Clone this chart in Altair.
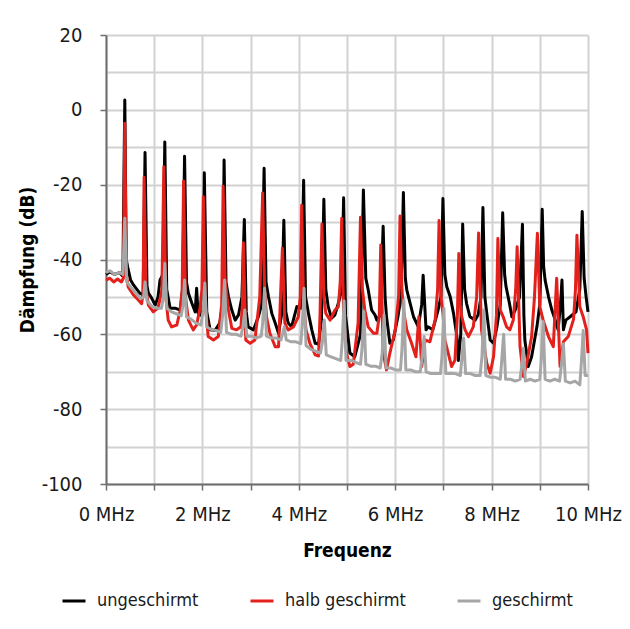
import altair as alt
import pandas as pd

SERIES = ["ungeschirmt", "halb geschirmt", "geschirmt"]
COLORS = ["#000000", "#e3201b", "#a6a6a6"]

X_TICKS = [0, 1, 2, 3, 4, 5, 6, 7, 8, 9, 10]
Y_TICKS = [-100, -90, -80, -70, -60, -50, -40, -30, -20, -10, 0, 10, 20]

black_f = [0.00, 0.08, 0.18, 0.28, 0.35, 0.39, 0.42, 0.45, 0.51, 0.57, 0.70, 0.77,
           0.81, 0.85, 0.88, 0.95, 1.02, 1.08, 1.12, 1.18, 1.22, 1.26, 1.33, 1.43,
           1.54, 1.59, 1.63, 1.67, 1.71, 1.78, 1.85, 1.88, 1.91, 1.98, 2.01, 2.04,
           2.09, 2.16, 2.26, 2.36, 2.42, 2.45, 2.49, 2.54, 2.61, 2.68, 2.75, 2.82,
           2.87, 2.91, 2.95, 3.06, 3.16, 3.23, 3.28, 3.32, 3.37, 3.44, 3.51, 3.58,
           3.64, 3.69, 3.73, 3.78, 3.85, 3.96, 4.05, 4.10, 4.14, 4.20, 4.27, 4.34,
           4.41, 4.47, 4.52, 4.56, 4.61, 4.68, 4.75, 4.82, 4.89, 4.93, 4.97, 5.06,
           5.16, 5.28, 5.34, 5.39, 5.44, 5.51, 5.58, 5.62, 5.69, 5.75, 5.79, 5.82,
           5.89, 5.96, 6.06, 6.12, 6.17, 6.21, 6.24, 6.31, 6.38, 6.48, 6.55, 6.58,
           6.64, 6.68, 6.78, 6.88, 6.95, 6.99, 7.03, 7.07, 7.14, 7.21, 7.28, 7.31,
           7.36, 7.40, 7.44, 7.48, 7.55, 7.66, 7.72, 7.78, 7.82, 7.86, 7.90, 7.97,
           8.04, 8.11, 8.18, 8.23, 8.27, 8.30, 8.37, 8.42, 8.49, 8.58, 8.64, 8.67,
           8.69, 8.76, 8.83, 8.94, 9.00, 9.05, 9.08, 9.11, 9.18, 9.25, 9.32, 9.38,
           9.43, 9.46, 9.49, 9.54, 9.63, 9.75, 9.83, 9.88, 9.92, 9.96, 10.00]
black_db = [-44.0, -43.3, -44.0, -43.5, -44.5, 2.6, -40.0, -42.0, -45.5, -46.8, -49.0, -49.5,
            -11.4, -47.0, -49.0, -50.4, -52.2, -50.0, -45.5, -44.0, -8.6, -48.0, -53.0, -53.0,
            -53.5, -48.0, -12.4, -46.0, -49.0, -51.6, -54.0, -47.7, -54.3, -55.0, -50.0, -16.8,
            -54.0, -58.8, -59.0, -57.0, -52.0, -13.4, -46.0, -49.9, -53.5, -56.2, -54.8, -50.0,
            -29.3, -54.0, -58.0, -58.8, -55.3, -52.0, -15.6, -46.0, -49.9, -54.4, -57.0, -59.7,
            -55.0, -29.5, -54.0, -57.0, -58.0, -52.6, -53.0, -18.8, -50.0, -54.4, -58.8, -62.4,
            -62.6, -56.0, -23.9, -48.0, -52.6, -55.7, -54.8, -51.7, -48.0, -23.5, -55.0, -65.0,
            -66.0, -60.0, -21.4, -45.0, -48.1, -53.5, -54.8, -56.2, -54.8, -31.1, -50.0, -55.3,
            -62.4, -61.5, -55.0, -50.0, -22.1, -45.0, -48.1, -51.7, -55.3, -58.0, -52.0, -44.2,
            -58.8, -58.0, -58.8, -54.0, -50.0, -23.7, -44.0, -47.3, -49.9, -54.4, -60.6, -67.0,
            -60.0, -30.5, -48.0, -51.7, -55.3, -56.2, -54.8, -50.0, -26.1, -50.0, -54.4, -61.5,
            -62.4, -58.0, -52.0, -27.5, -44.0, -47.3, -51.7, -55.3, -53.5, -50.0, -30.6, -55.0,
            -61.5, -68.6, -66.0, -58.0, -52.0, -26.6, -42.0, -45.5, -49.9, -53.5, -56.2, -58.8,
            -52.0, -45.5, -58.8, -56.2, -55.3, -54.0, -48.0, -27.2, -45.0, -49.9, -54.0]

red_f = [0.00, 0.08, 0.16, 0.24, 0.32, 0.36, 0.39, 0.42, 0.46, 0.57, 0.67, 0.74,
         0.77, 0.79, 0.83, 0.88, 0.98, 1.08, 1.16, 1.20, 1.24, 1.29, 1.36, 1.47,
         1.54, 1.58, 1.61, 1.65, 1.71, 1.81, 1.88, 1.95, 1.99, 2.02, 2.06, 2.12,
         2.23, 2.33, 2.40, 2.43, 2.47, 2.54, 2.61, 2.71, 2.80, 2.83, 2.85, 2.90,
         2.99, 3.09, 3.19, 3.25, 3.29, 3.33, 3.40, 3.51, 3.58, 3.62, 3.66, 3.71,
         3.78, 3.89, 3.99, 4.03, 4.06, 4.10, 4.15, 4.23, 4.34, 4.41, 4.44, 4.48,
         4.52, 4.56, 4.65, 4.75, 4.82, 4.86, 4.89, 4.93, 4.99, 5.06, 5.13, 5.23,
         5.28, 5.32, 5.37, 5.44, 5.55, 5.62, 5.67, 5.70, 5.75, 5.82, 5.89, 6.00,
         6.07, 6.10, 6.14, 6.17, 6.24, 6.34, 6.43, 6.49, 6.55, 6.62, 6.72, 6.83,
         6.88, 6.91, 6.95, 6.99, 7.03, 7.10, 7.17, 7.24, 7.29, 7.32, 7.35, 7.38,
         7.45, 7.52, 7.62, 7.69, 7.73, 7.79, 7.90, 7.97, 8.04, 8.10, 8.13, 8.18,
         8.24, 8.31, 8.38, 8.45, 8.50, 8.53, 8.59, 8.66, 8.73, 8.83, 8.89, 8.95,
         9.00, 9.07, 9.18, 9.28, 9.35, 9.42, 9.49, 9.59, 9.70, 9.74, 9.77, 9.83,
         9.90, 9.97, 10.00]
red_db = [-45.5, -45.0, -46.0, -45.2, -46.0, -45.0, -3.6, -44.0, -47.3, -49.5, -50.8, -51.8,
          -49.0, -18.0, -48.0, -52.2, -54.0, -53.0, -48.0, -15.2, -50.0, -56.2, -58.0, -57.5,
          -53.5, -48.0, -19.0, -50.0, -56.2, -58.8, -57.5, -53.0, -48.0, -23.2, -52.0, -60.6,
          -61.5, -60.6, -52.0, -20.4, -45.0, -53.5, -58.4, -58.8, -58.0, -52.0, -35.5, -61.5,
          -62.4, -61.5, -50.0, -22.2, -48.0, -55.3, -59.7, -63.3, -63.3, -50.0, -37.0, -57.0,
          -58.8, -58.0, -55.3, -50.0, -25.5, -52.0, -58.8, -62.4, -65.5, -65.8, -55.0, -30.5,
          -50.0, -54.4, -56.2, -53.5, -52.6, -46.0, -29.0, -55.0, -65.0, -68.6, -68.0, -57.0,
          -28.7, -48.0, -53.5, -58.0, -59.7, -59.7, -55.0, -36.1, -65.0, -69.5, -65.0, -58.8,
          -50.0, -28.4, -48.0, -53.5, -58.8, -62.4, -66.0, -55.3, -68.6, -61.5, -62.0, -56.0,
          -48.0, -29.6, -50.0, -54.4, -61.5, -65.0, -68.6, -66.9, -55.0, -38.4, -52.0, -55.3,
          -58.8, -60.6, -58.0, -50.0, -32.9, -58.8, -67.7, -70.4, -66.0, -55.0, -34.4, -53.5,
          -55.3, -58.0, -58.8, -56.2, -48.0, -36.6, -63.3, -71.3, -67.7, -60.6, -50.0, -33.0,
          -52.6, -56.2, -60.6, -63.3, -45.0, -68.6, -62.0, -60.6, -56.0, -48.0, -33.5, -52.6,
          -55.3, -58.8, -65.0]

gray_f = [0.00, 0.08, 0.18, 0.28, 0.35, 0.39, 0.43, 0.52, 0.62, 0.72, 0.78, 0.81,
          0.85, 0.95, 1.05, 1.15, 1.19, 1.22, 1.26, 1.36, 1.46, 1.56, 1.60, 1.63,
          1.67, 1.77, 1.87, 1.97, 2.01, 2.05, 2.09, 2.19, 2.29, 2.38, 2.42, 2.46,
          2.50, 2.60, 2.70, 2.80, 2.84, 2.88, 2.92, 3.02, 3.12, 3.22, 3.25, 3.29,
          3.33, 3.43, 3.53, 3.63, 3.66, 3.70, 3.74, 3.84, 3.94, 4.04, 4.07, 4.11,
          4.15, 4.25, 4.35, 4.45, 4.49, 4.53, 4.57, 4.67, 4.77, 4.87, 4.90, 4.94,
          4.98, 5.08, 5.18, 5.28, 5.31, 5.35, 5.39, 5.49, 5.59, 5.69, 5.73, 5.77,
          5.81, 5.91, 6.01, 6.11, 6.14, 6.18, 6.22, 6.32, 6.42, 6.52, 6.56, 6.60,
          6.64, 6.74, 6.84, 6.94, 6.97, 7.01, 7.05, 7.15, 7.25, 7.35, 7.38, 7.42,
          7.46, 7.56, 7.66, 7.76, 7.80, 7.84, 7.88, 7.98, 8.08, 8.18, 8.21, 8.25,
          8.29, 8.39, 8.49, 8.59, 8.62, 8.66, 8.70, 8.80, 8.90, 9.00, 9.03, 9.07,
          9.11, 9.21, 9.31, 9.41, 9.45, 9.49, 9.53, 9.63, 9.73, 9.83, 9.86, 9.90,
          9.94, 10.00]
gray_db = [-43.5, -43.0, -44.0, -43.5, -44.0, -29.0, -46.0, -47.5, -49.0, -50.5, -50.0, -46.0,
           -51.0, -52.5, -53.0, -53.0, -50.0, -41.0, -53.0, -54.0, -54.5, -55.0, -52.0, -45.5,
           -55.3, -56.0, -57.0, -57.5, -54.0, -46.3, -58.0, -58.8, -59.0, -59.5, -55.0, -45.5,
           -59.5, -60.0, -60.0, -60.5, -58.0, -53.5, -60.5, -60.5, -61.0, -60.5, -57.0, -47.7,
           -60.5, -61.0, -61.0, -61.5, -60.0, -58.0, -61.5, -62.0, -62.0, -62.5, -58.0, -47.7,
           -63.0, -64.0, -64.5, -65.0, -62.0, -56.2, -65.5, -66.0, -66.5, -67.0, -62.0, -51.0,
           -67.0, -66.9, -67.5, -68.0, -64.0, -53.9, -68.0, -68.5, -68.5, -69.0, -65.0, -54.8,
           -69.0, -69.0, -69.5, -69.5, -64.0, -50.8, -69.5, -69.5, -70.0, -70.0, -66.0, -60.6,
           -70.0, -70.5, -70.5, -70.5, -66.0, -53.0, -70.5, -70.4, -70.5, -71.0, -67.0, -61.0,
           -70.5, -70.5, -71.0, -71.0, -66.0, -53.5, -71.0, -71.5, -71.5, -72.0, -67.0, -60.0,
           -72.0, -72.0, -72.5, -72.0, -69.0, -63.7, -72.5, -72.0, -72.5, -72.0, -67.0, -56.6,
           -72.0, -72.5, -72.0, -72.5, -68.0, -62.5, -72.5, -73.0, -72.5, -73.5, -68.0, -59.0,
           -71.0, -71.0]

rows = []
for name, fs, ds in [(SERIES[0], black_f, black_db),
                     (SERIES[1], red_f, red_db),
                     (SERIES[2], gray_f, gray_db)]:
    for i, (f, d) in enumerate(zip(fs, ds)):
        rows.append({"serie": name, "f": f, "db": d, "i": i})
df = pd.DataFrame(rows)

FONT = "DejaVu Sans Condensed, Liberation Sans Narrow, sans-serif"

x = alt.X(
    "f:Q",
    scale=alt.Scale(domain=[0, 10], nice=False),
    axis=alt.Axis(
        values=X_TICKS,
        labelExpr="datum.value % 2 === 0 ? datum.value + ' MHz' : ''",
        labelOverlap=False,
        labelFlush=False,
        title="Frequenz",
        titleBaseline="top",
        titleY=57,
        labelPadding=14,
        tickSize=6,
    ),
)
y = alt.Y(
    "db:Q",
    scale=alt.Scale(domain=[-100, 20], nice=False),
    axis=alt.Axis(
        values=Y_TICKS,
        labelExpr="datum.value % 20 === 0 ? '' + datum.value : ''",
        labelOverlap=False,
        tickColor={"condition": {"test": "datum.value % 20 === 0", "value": "#6e6e6e"},
                   "value": "transparent"},
        title="Dämpfung (dB)",
        titleAngle=270,
        titleBaseline="bottom",
        titleAlign="center",
        titleX=-69,
        titleY=224.5,
        labelPadding=18,
        tickSize=6,
    ),
)
color = alt.Color(
    "serie:N",
    scale=alt.Scale(domain=SERIES, range=COLORS),
    legend=alt.Legend(
        title=None,
        orient="none",
        legendX=-45,
        legendY=553,
        direction="horizontal",
        symbolType="stroke",
        symbolSize=529,
        symbolStrokeWidth=3,
        labelFontSize=18,
        labelFont=FONT,
        labelColor="#1a1a1a",
        labelOffset=10,
        columnPadding=45,
    ),
)

layers = [
    alt.Chart(df)
    .transform_filter(alt.datum.serie == s)
    .mark_line(strokeWidth=3, strokeJoin="round")
    .encode(x=x, y=y, color=color, order="i:Q")
    for s in SERIES
]

chart = (
    alt.layer(*layers)
    .properties(
        width=482,
        height=449,
        autosize=alt.AutoSizeParams(type="none"),
        padding={"left": 98, "top": 27, "right": 34, "bottom": 137},
    )
    .configure_view(strokeWidth=0)
    .configure_axis(
        domainColor="#6e6e6e",
        domainWidth=2,
        tickColor="#6e6e6e",
        tickWidth=1.5,
        gridColor="#d2d2d2",
        gridWidth=2,
        labelFont=FONT,
        labelFontSize=20,
        labelColor="#1a1a1a",
        titleFont=FONT,
        titleFontSize=19,
        titleFontWeight="bold",
        titleColor="#000000",
    )
)

chart.save("out.html", embed_options={"renderer": "svg", "actions": False})
